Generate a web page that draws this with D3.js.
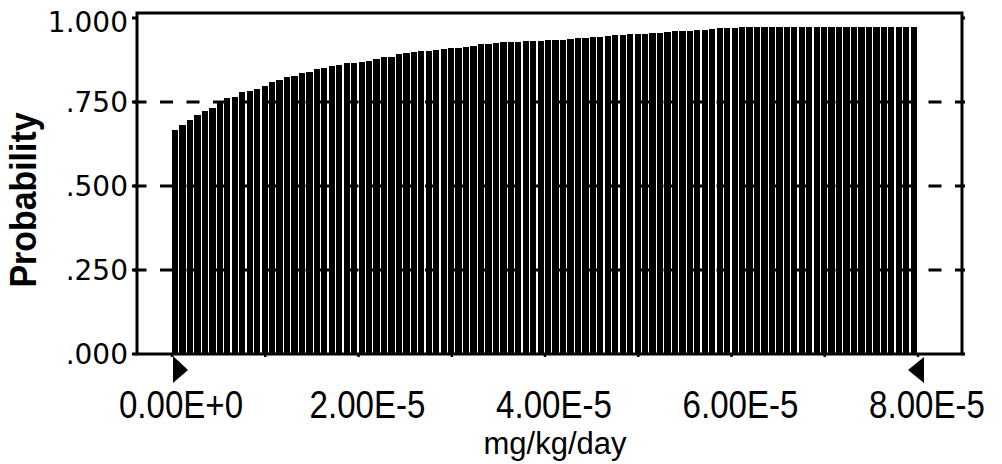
<!DOCTYPE html>
<html>
<head>
<meta charset="utf-8">
<script src="https://cdn.jsdelivr.net/npm/d3@7"></script>
<style>
  html, body { margin: 0; padding: 0; background: #fff; }
  svg { display: block; }
</style>
</head>
<body>
<div id="app"></div>
<script>
`use strict`;

// cumulative probability per cell (100 cells over 0 .. 8E-5)
const cumProb = [
  .667, .683, .696, .711, .723, .733, .751, .761, .766, .779,
  .784, .788, .799, .809, .815, .825, .828, .837, .840, .847,
  .852, .857, .860, .865, .865, .870, .873, .877, .883, .885,
  .893, .895, .900, .903, .903, .905, .907, .910, .912, .914,
  .918, .922, .924, .927, .930, .930, .930, .931, .932, .933,
  .934, .935, .936, .938, .940, .941, .942, .944, .946, .948,
  .950, .951, .952, .953, .954, .956, .958, .960, .961, .962,
  .963, .965, .967, .969, .970, .971, .972, .973, .973, .973,
  .973, .973, .973, .973, .973, .973, .973, .973, .973, .973,
  .973, .973, .973, .973, .973, .973, .973, .973, .973, .973
];

const xMax = 8e-5;

const xTicks = [0, 2e-5, 4e-5, 6e-5, 8e-5];
const xTickLabels = [`0.00E+0`, `2.00E-5`, `4.00E-5`, `6.00E-5`, `8.00E-5`];
const xMinorTicks = d3.range(0, 9).map(k => k * 1e-5);

const yTicks = [0, .25, .5, .75, 1];
const yTickLabels = [`.000`, `.250`, `.500`, `.750`, `1.000`];
const yGrid = [.25, .5, .75];

const xTitle = `mg/kg/day`;
const yTitle = `Probability`;

/**/

const W = 1002, H = 464;

const frame = {left: 137, right: 962, top: 13, bottom: 354};

let x = d3.scaleLinear().domain([0, xMax]).range([172, 918]);
let y = d3.scaleLinear().domain([0, 1]).range([354, 18]);

let cellW = xMax / cumProb.length;

let SVG = d3.select(`#app`).append(`svg`).attr(`width`, W).attr(`height`, H);

SVG.append(`rect`).attr(`width`, W).attr(`height`, H).attr(`fill`, `#fff`);

// dashed grid sits behind the bars, it shows through the gaps
SVG.append(`g`).selectAll(`line`).data(yGrid).enter().append(`line`)
  .attr(`x1`, 133.5).attr(`x2`, frame.right)
  .attr(`y1`, d => y(d)).attr(`y2`, d => y(d))
  .attr(`stroke`, `#000`).attr(`stroke-width`, 3).attr(`stroke-dasharray`, `13,13.5`);

SVG.append(`g`).attr(`shape-rendering`, `crispEdges`).selectAll(`rect`).data(cumProb).enter().append(`rect`)
  .attr(`x`, (d, i) => x(i * cellW))
  .attr(`width`, x(cellW) - x(0) - 1.2)
  .attr(`y`, d => y(d))
  .attr(`height`, d => y(0) - y(d))
  .attr(`fill`, `#000`);

// frame
SVG.append(`rect`)
  .attr(`x`, frame.left).attr(`y`, frame.top)
  .attr(`width`, frame.right - frame.left).attr(`height`, frame.bottom - frame.top)
  .attr(`fill`, `none`).attr(`stroke`, `#000`).attr(`stroke-width`, 3);

// y ticks, both sides
SVG.append(`g`).selectAll(`path`).data(yTicks).enter().append(`path`)
  .attr(`d`, d => `M${frame.left - 5} ${y(d)} H${frame.left} M${frame.right} ${y(d)} H${frame.right + 3}`)
  .attr(`stroke`, `#000`).attr(`stroke-width`, 3);

// x ticks, small nubs under the axis
SVG.append(`g`).selectAll(`path`).data(xMinorTicks).enter().append(`path`)
  .attr(`d`, d => `M${x(d)} ${frame.bottom} V${frame.bottom + 3}`)
  .attr(`stroke`, `#000`).attr(`stroke-width`, 2.5);

SVG.append(`g`).selectAll(`text`).data(yTicks).enter().append(`text`)
  .attr(`x`, 128)
  .attr(`y`, d => Math.max(y(d), 22) + 10.2)
  .attr(`text-anchor`, `end`)
  .attr(`font-family`, `DejaVu Sans`).attr(`font-size`, `28px`)
  .text((d, i) => yTickLabels[i]);

SVG.append(`g`).selectAll(`text`).data(xTicks).enter().append(`text`)
  .attr(`transform`, d => `translate(${x(d) + 9}, 418) scale(0.87, 1)`)
  .attr(`text-anchor`, `middle`)
  .attr(`font-family`, `Liberation Sans`).attr(`font-size`, `38px`)
  .text((d, i) => xTickLabels[i]);

SVG.append(`text`)
  .attr(`x`, (x(0) + x(xMax)) / 2 + 10).attr(`y`, 454)
  .attr(`text-anchor`, `middle`)
  .attr(`font-family`, `Liberation Sans`).attr(`font-size`, `31px`)
  .text(xTitle);

SVG.append(`text`)
  .attr(`transform`, `translate(36, 200) rotate(-90)`)
  .attr(`text-anchor`, `middle`)
  .attr(`font-family`, `Liberation Sans`).attr(`font-size`, `36px`).attr(`font-weight`, `bold`)
  .attr(`textLength`, 175).attr(`lengthAdjust`, `spacingAndGlyphs`)
  .text(yTitle);

// certainty grabbers at both ends of the range
SVG.append(`path`)
  .attr(`d`, `M${x(0) + 1} 356 V383 L${x(0) + 16} 370 Z`)
  .attr(`fill`, `#000`);

SVG.append(`path`)
  .attr(`d`, `M${x(xMax) + 6} 357 V383 L${x(xMax) - 10} 370 Z`)
  .attr(`fill`, `#000`);
</script>
</body>
</html>
